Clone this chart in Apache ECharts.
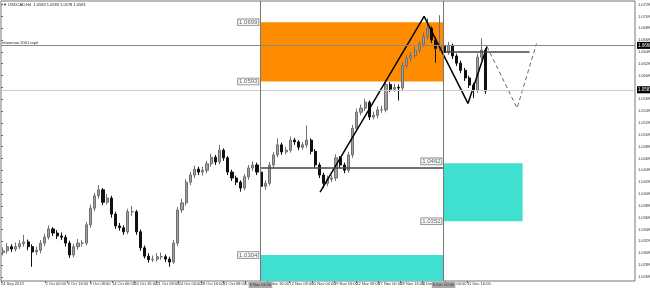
<!DOCTYPE html>
<html><head><meta charset="utf-8">
<script src="https://cdn.jsdelivr.net/npm/echarts@6/dist/echarts.min.js"></script>
<style>html,body{margin:0;padding:0;background:#fff}#c{width:650px;height:288px}</style>
</head><body><div id="c"></div>
<script>
// 12-hour candles, USDCAD
const opens = [1.0310,1.0313,1.0320,1.0316,1.0320,1.0325,1.0328,1.0320,1.0311,1.0314,
1.0326,1.0336,1.0350,1.0343,1.0338,1.0336,1.0326,1.0306,1.0320,1.0326,
1.0326,1.0357,1.0385,1.0406,1.0416,1.0395,1.0402,1.0375,1.0355,1.0352,
1.0345,1.0379,1.0379,1.0345,1.0318,1.0304,1.0298,1.0299,1.0303,1.0303,
1.0299,1.0294,1.0326,1.0382,1.0394,1.0429,1.0441,1.0451,1.0446,1.0449,
1.0460,1.0471,1.0463,1.0483,1.0470,1.0446,1.0436,1.0429,1.0419,1.0438,
1.0453,1.0458,1.0446,1.0422,1.0427,1.0458,1.0475,1.0492,1.0480,1.0483,
1.0500,1.0497,1.0488,1.0492,1.0500,1.0481,1.0458,1.0441,1.0427,1.0434,
1.0436,1.0470,1.0458,1.0449,1.0475,1.0520,1.0547,1.0554,1.0564,1.0539,
1.0542,1.0551,1.0551,1.0594,1.0586,1.0589,1.0588,1.0626,1.0638,1.0643,
1.0652,1.0662,1.0675,1.0689,1.0669,1.0655,1.0660,1.0648,1.0660,1.0642,
1.0630,1.0618,1.0605,1.0593,1.0584,1.0640,1.0652];
const highs = [1.0319,1.0326,1.0324,1.0327,1.0331,1.0340,1.0332,1.0324,1.0320,1.0331,
1.0342,1.0356,1.0353,1.0348,1.0344,1.0340,1.0330,1.0325,1.0333,1.0331,
1.0362,1.0391,1.0411,1.0424,1.0419,1.0409,1.0406,1.0379,1.0360,1.0356,
1.0384,1.0389,1.0382,1.0349,1.0322,1.0309,1.0305,1.0309,1.0310,1.0307,
1.0303,1.0331,1.0387,1.0401,1.0434,1.0446,1.0457,1.0455,1.0455,1.0465,
1.0477,1.0475,1.0492,1.0486,1.0473,1.0450,1.0440,1.0432,1.0443,1.0458,
1.0464,1.0462,1.0449,1.0432,1.0463,1.0480,1.0503,1.0496,1.0489,1.0506,
1.0504,1.0500,1.0497,1.0525,1.0503,1.0485,1.0462,1.0445,1.0440,1.0441,
1.0476,1.0473,1.0462,1.0480,1.0526,1.0553,1.0560,1.0570,1.0567,1.0548,
1.0557,1.0558,1.0600,1.0598,1.0595,1.0594,1.0632,1.0644,1.0649,1.0658,
1.0668,1.0682,1.0706,1.0692,1.0673,1.0711,1.0665,1.0666,1.0663,1.0646,
1.0634,1.0622,1.0609,1.0597,1.0646,1.0672,1.0655];
const lows = [1.0305,1.0308,1.0311,1.0312,1.0316,1.0320,1.0314,1.0286,1.0306,1.0309,
1.0321,1.0332,1.0338,1.0333,1.0331,1.0320,1.0301,1.0302,1.0315,1.0320,
1.0322,1.0352,1.0380,1.0401,1.0390,1.0391,1.0369,1.0350,1.0347,1.0340,
1.0341,1.0372,1.0340,1.0313,1.0300,1.0293,1.0294,1.0295,1.0298,1.0294,
1.0286,1.0291,1.0321,1.0377,1.0389,1.0424,1.0436,1.0441,1.0440,1.0444,
1.0455,1.0458,1.0459,1.0465,1.0441,1.0431,1.0424,1.0413,1.0415,1.0433,
1.0448,1.0441,1.0417,1.0416,1.0423,1.0453,1.0471,1.0475,1.0476,1.0479,
1.0492,1.0483,1.0484,1.0487,1.0476,1.0453,1.0436,1.0419,1.0422,1.0429,
1.0431,1.0453,1.0444,1.0445,1.0470,1.0515,1.0542,1.0549,1.0534,1.0535,
1.0537,1.0546,1.0547,1.0581,1.0582,1.0567,1.0584,1.0621,1.0633,1.0638,
1.0647,1.0657,1.0670,1.0664,1.0631,1.0650,1.0643,1.0644,1.0637,1.0625,
1.0613,1.0600,1.0588,1.0571,1.0580,1.0635,1.0578];
const closes = [1.0313,1.0320,1.0316,1.0320,1.0325,1.0328,1.0320,1.0311,1.0314,1.0326,
1.0336,1.0350,1.0343,1.0338,1.0336,1.0326,1.0306,1.0320,1.0326,1.0326,
1.0357,1.0385,1.0406,1.0416,1.0395,1.0402,1.0375,1.0355,1.0352,1.0345,
1.0379,1.0379,1.0345,1.0318,1.0304,1.0298,1.0299,1.0303,1.0303,1.0299,
1.0294,1.0326,1.0382,1.0394,1.0429,1.0441,1.0451,1.0446,1.0449,1.0460,
1.0471,1.0463,1.0483,1.0470,1.0446,1.0436,1.0429,1.0419,1.0438,1.0453,
1.0458,1.0446,1.0422,1.0427,1.0458,1.0475,1.0492,1.0480,1.0483,1.0500,
1.0497,1.0488,1.0492,1.0500,1.0481,1.0458,1.0441,1.0427,1.0434,1.0436,
1.0470,1.0458,1.0449,1.0475,1.0520,1.0547,1.0554,1.0564,1.0539,1.0542,
1.0551,1.0551,1.0594,1.0586,1.0589,1.0588,1.0626,1.0638,1.0643,1.0652,
1.0662,1.0675,1.0689,1.0669,1.0655,1.0660,1.0648,1.0660,1.0642,1.0630,
1.0618,1.0605,1.0593,1.0584,1.0640,1.0652,1.0583];

// time axis (H4 bar index) tick labels, every 16 bars
const timeLabels = ['24 Sep 2013','27 Sep 08:00','2 Oct 00:00','4 Oct 16:00','9 Oct 08:00','14 Oct 00:00','16 Oct 16:00','21 Oct 08:00','24 Oct 00:00','28 Oct 16:00','31 Oct 08:00','5 Nov 00:00','7 Nov 16:00','12 Nov 08:00','15 Nov 00:00','19 Nov 16:00','22 Nov 08:00','27 Nov 00:00','29 Nov 16:00','4 Dec 08:00','9 Dec 00:00','11 Dec 16:00','16 Dec 08:00'];
const timeTickBars = [0,16,32,48,64,80,96,112,128,144,160,176,192,208,224,240,256,272,288,304,320,336,352];
const priceTicks = [1.0269,1.0289,1.0309,1.0329,1.0349,1.0369,1.0389,1.0409,1.0429,1.0449,1.0469,1.0489,1.0509,1.0529,1.0549,1.0569,1.0589,1.0609,1.0629,1.0649,1.0669,1.0689,1.0709,1.0729];

// zones [fromBar, toBar, top, bottom]
const supplyZone = [187, 319, 1.0699, 1.0599];
const demandZone = [319, 376, 1.0461, 1.0363];
const lowerZone = [187, 319, 1.0306, 1.0262];
// price tags [text, bar, price]
const zoneTags = [['1.0699',187,1.0699],['1.0593',187,1.0599],['1.0462',319,1.0464],['1.0352',319,1.0363],['1.0304',187,1.0306]];
// wave drawing [bar, price]
const wavePoints = [[230,1.0412],[305,1.0709],[336.6,1.0562],[350.3,1.0658]];
const projectionPoints = [[350.3,1.0658],[372,1.0554],[386,1.0663]];
const pivotLevel = [187, 319, 1.0453];
const neckLevel = [320, 381, 1.0650];
const markedLevel = 1.0660;
const bidLevel = 1.0585;
const separatorBars = [[187,'6 Nov 04:00'],[319,'6 Dec 00:00']];
const X_MIN = 0, X_MAX = 457;

const candleData = closes.map((c,i)=>[i*3+1.5, opens[i], c, lows[i], highs[i]]);
const FONT = 'Liberation Sans';
const boxLabel = (txt)=>({show:true,position:'end',formatter:txt,backgroundColor:'#000',color:'#fff',fontSize:4.5,padding:[1,1],distance:2,fontFamily:FONT});

const chart = echarts.init(document.getElementById('c'), null, {renderer:'canvas'});
chart.setOption({
  animation:false,
  backgroundColor:'#ffffff',
  textStyle:{fontFamily:FONT},
  grid:{left:1,right:15,top:1,bottom:7,show:true,borderColor:'#777',borderWidth:1,backgroundColor:'#fff',containLabel:false,outerBoundsMode:'none'},
  xAxis:{type:'value',min:X_MIN,max:X_MAX,
    axisLine:{show:false},splitLine:{show:false},
    axisTick:{show:true,customValues:timeTickBars,length:2,lineStyle:{color:'#666'}},
    axisLabel:{customValues:timeTickBars,fontSize:4,color:'#333',align:'left',margin:1,fontFamily:FONT,hideOverlap:false,showMinLabel:true,
      formatter:v=>timeLabels[timeTickBars.indexOf(Math.round(v))] || ''}},
  yAxis:{type:'value',position:'right',min:1.0262,max:1.0735,
    axisLine:{show:false},splitLine:{show:false},
    axisTick:{show:true,customValues:priceTicks,length:2,lineStyle:{color:'#666'}},
    axisLabel:{customValues:priceTicks,fontSize:4,color:'#333',margin:3,fontFamily:FONT,formatter:v=>v.toFixed(4)}},
  graphic:[
    {type:'text',left:3,top:3,style:{text:'▼ USDCAD,H4  1.0583 1.0583 1.0578 1.0581',fontSize:4,fill:'#222',fontFamily:FONT}},
    {type:'text',left:2,top:41,style:{text:'retournue 2001 repé',fontSize:4,fill:'#222',fontFamily:FONT}}
  ],
  series:[
    {type:'line',name:'zones',z:1,data:[],silent:true,
      markArea:{silent:true,data:[
        [{coord:[supplyZone[0],supplyZone[2]],itemStyle:{color:'#FF8C00'}},{coord:[supplyZone[1],supplyZone[3]]}],
        [{coord:[demandZone[0],demandZone[2]],itemStyle:{color:'#40E0D0'}},{coord:[demandZone[1],demandZone[3]]}],
        [{coord:[lowerZone[0],lowerZone[2]],itemStyle:{color:'#40E0D0'}},{coord:[lowerZone[1],lowerZone[3]]}]
      ]},
      markLine:{silent:true,symbol:'none',data:[
        [{coord:[pivotLevel[0],pivotLevel[2]]},{coord:[pivotLevel[1],pivotLevel[2]]}],
        [{coord:[neckLevel[0],neckLevel[2]]},{coord:[neckLevel[1],neckLevel[2]]}]
      ],lineStyle:{color:'#444',width:1.5,type:'solid'},label:{show:false}}
    },
    {type:'line',name:'levels',z:2,data:[],silent:true,
      markLine:{silent:true,symbol:'none',data:[
        [{coord:[X_MIN,markedLevel],lineStyle:{color:'#888',width:1,type:'solid'},label:boxLabel('1.0660')},{coord:[X_MAX,markedLevel]}],
        [{coord:[X_MIN,bidLevel],lineStyle:{color:'#cccccc',width:1,type:'solid'},label:boxLabel('1.0583')},{coord:[X_MAX,bidLevel]}],
        ...separatorBars.map(s=>({xAxis:s[0],lineStyle:{color:'#777',width:1,type:'solid'},
          label:{show:true,position:'start',formatter:s[1],backgroundColor:'#a8a8a8',color:'#333',fontSize:4,padding:[1,1],distance:1,fontFamily:FONT}}))
      ]}
    },
    {type:'candlestick',name:'USDCAD',z:3,data:candleData,encode:{x:0,y:[1,2,3,4]},barWidth:2.6,
      itemStyle:{color:'#a0a0a0',color0:'#111111',borderColor:'#707070',borderColor0:'#111111',borderWidth:1}},
    {type:'line',name:'wave',z:4,data:wavePoints,symbol:'none',lineStyle:{color:'#000',width:1.5},clip:false},
    {type:'line',name:'projection',z:4,data:projectionPoints,symbol:'none',lineStyle:{color:'#666',width:1,type:[4,3]},clip:false},
    {type:'scatter',name:'tags',z:5,symbolSize:0,data:zoneTags.map(t=>({name:t[0],value:[t[1],t[2]]})),
      label:{show:true,position:'left',distance:2,formatter:p=>p.name,backgroundColor:'#fff',borderColor:'#666',borderWidth:0.8,
        padding:[0,1],fontSize:6,color:'#333',fontFamily:FONT}}
  ]
});
</script></body></html>
